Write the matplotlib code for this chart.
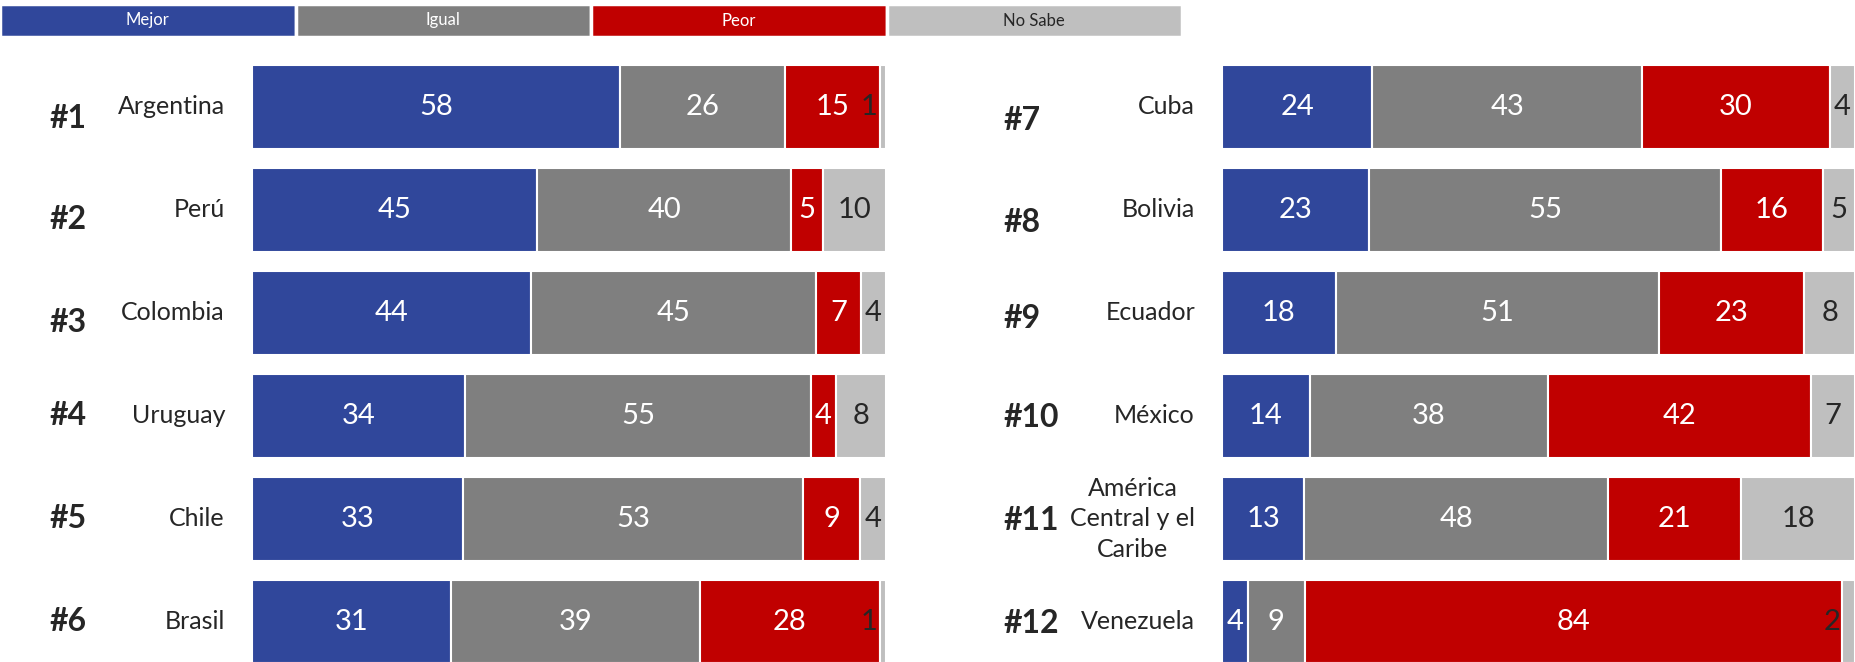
import numpy as np
import matplotlib
matplotlib.use("Agg")
import matplotlib.pyplot as plt
from matplotlib.transforms import blended_transform_factory

plt.rcParams['font.family'] = ['Lato', 'DejaVu Sans']

# ----- data -----
categorias = ['Mejor', 'Igual', 'Peor', 'No Sabe']
colores = ['#30479B', '#7F7F7F', '#C00000', '#BFBFBF']
color_texto = ['white', 'white', 'white', '#262626']

rank_izq = ['#1', '#2', '#3', '#4', '#5', '#6']
paises_izq = ['Argentina', 'Perú', 'Colombia', 'Uruguay', 'Chile', 'Brasil']
mejor_izq = [58, 45, 44, 34, 33, 31]
igual_izq = [26, 40, 45, 55, 53, 39]
peor_izq = [15, 5, 7, 4, 9, 28]
nosabe_izq = [1, 10, 4, 8, 4, 1]

rank_der = ['#7', '#8', '#9', '#10', '#11', '#12']
paises_der = ['Cuba', 'Bolivia', 'Ecuador', 'México',
              'América\nCentral y el\nCaribe', 'Venezuela']
mejor_der = [24, 23, 18, 14, 13, 4]
igual_der = [43, 55, 51, 38, 48, 9]
peor_der = [30, 16, 23, 42, 21, 84]
nosabe_der = [4, 5, 8, 7, 18, 2]

# ----- figure -----
W, H = 1855, 662
fig = plt.figure(figsize=(W / 100, H / 100), dpi=100)

# vertical mapping: row 0 centre at 107 px from top, pitch 103 px
pitch = 102.9
y0 = 107
ylim = ((H - y0) / pitch, -y0 / pitch)


def panel(x_left, x_right, ranks, paises, series, rank_x, pais_x, rank_dy):
    ax = fig.add_axes([x_left / W, 0, (x_right - x_left) / W, 1])
    datos = np.array(series, dtype=float)
    totales = datos.sum(axis=0)
    pct = datos / totales * 100
    filas = np.arange(len(paises))
    izquierda = np.zeros(len(paises))
    for k in range(len(categorias)):
        ax.barh(filas, pct[k], left=izquierda, height=0.816,
                color=colores[k], edgecolor='white', linewidth=1.5)
        for i in filas:
            v = int(datos[k, i])
            if v < 3 and k == 3:
                ax.text(izquierda[i] - 0.3, i, str(v), ha='right', va='center',
                        fontsize=21, color=color_texto[k])
            else:
                ax.text(izquierda[i] + pct[k, i] / 2, i, str(v), ha='center',
                        va='center', fontsize=21, color=color_texto[k])
        izquierda += pct[k]
    ax.set_xlim(0, 100)
    ax.set_ylim(*ylim)
    ax.axis('off')

    tr = blended_transform_factory(fig.transFigure, ax.transData)
    for i in filas:
        ax.text(rank_x / W, i + rank_dy[i] / pitch, ranks[i], transform=tr,
                ha='left', va='center', fontsize=23, fontweight='bold',
                color='#262626')
        ax.text(pais_x / W, i, paises[i], transform=tr, ha='right',
                va='center', fontsize=18, color='#262626',
                multialignment='center', linespacing=1.4)
    return ax


panel(252, 886, rank_izq, paises_izq,
      [mejor_izq, igual_izq, peor_izq, nosabe_izq],
      50, 225, [12, 10, 10, 0, 0, 0])
panel(1222, 1855, rank_der, paises_der,
      [mejor_der, igual_der, peor_der, nosabe_der],
      1003, 1195, [13, 13, 6, 2, 2, 2])

# ----- legend -----
axl = fig.add_axes([0, 1 - 37 / H, 1182 / W, 33 / H])
pos = np.arange(len(categorias))
axl.barh(0, np.ones(len(categorias)), left=pos, height=1, color=colores,
         edgecolor='white', linewidth=2.5)
for k, c in enumerate(categorias):
    axl.text(pos[k] + 0.5, 0, c, ha='center', va='center', fontsize=12,
             color=color_texto[k])
axl.set_xlim(0, len(categorias))
axl.set_ylim(-0.5, 0.5)
axl.axis('off')

fig.savefig('out.png', dpi=100)
